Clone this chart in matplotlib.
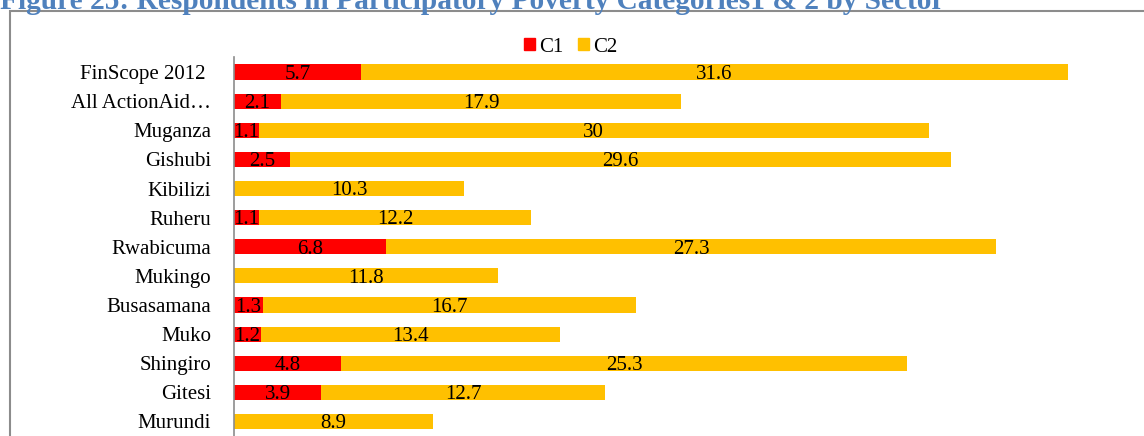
import matplotlib.pyplot as plt
import matplotlib.patches as mpatches
import numpy as np

plt.rcParams['font.family'] = ['Liberation Serif', 'DejaVu Serif']

sectors = ['FinScope 2012 ', 'All ActionAid\u2026', 'Muganza', 'Gishubi', 'Kibilizi',
           'Ruheru', 'Rwabicuma', 'Mukingo', 'Busasamana', 'Muko', 'Shingiro',
           'Gitesi', 'Murundi']
c1 = [5.7, 2.1, 1.1, 2.5, 0, 1.1, 6.8, 0, 1.3, 1.2, 4.8, 3.9, 0]
c2 = [31.6, 17.9, 30, 29.6, 10.3, 12.2, 27.3, 11.8, 16.7, 13.4, 25.3, 12.7, 8.9]

W, H = 1144, 436
fs = 15
fig = plt.figure(figsize=(W / 100, H / 100), dpi=100)

# figure title (cropped at the top in the original)
fig.text(0.0, 1 - 9 / H, 'Figure 25: Respondents in Participatory Poverty Categories1 & 2 by Sector',
         color='#4F81BD', fontsize=21.2, fontweight='bold', va='baseline', ha='left')

# chart border box
fig.add_artist(mpatches.Rectangle((9.5 / W, -0.1), 1.2, 1 - 11.5 / H + 0.1,
                                  transform=fig.transFigure, fill=False,
                                  edgecolor='#8c8c8c', linewidth=1.5))

ax = fig.add_axes([234 / W, 0, 894 / W, (H - 57.5) / H])
y = np.arange(len(sectors))
bh = 0.52
ax.barh(y, c1, height=bh, color='#FF0000', label='C1')
ax.barh(y, c2, left=c1, height=bh, color='#FFC000', label='C2')

for i in range(len(sectors)):
    if c1[i] > 0:
        ax.text(c1[i] / 2, y[i] + 0.08, f'{c1[i]:g}', ha='center', va='center', fontsize=fs)
    ax.text(c1[i] + c2[i] / 2, y[i] + 0.08, f'{c2[i]:g}', ha='center', va='center', fontsize=fs)

ax.set_xlim(0, 40)
ax.set_ylim(len(sectors) - 0.5, -0.5)
ax.set_yticks(y)
ax.set_yticklabels(sectors, fontsize=fs)
ax.tick_params(axis='y', length=0, pad=16.5)
ax.set_xticks([])
for s in ['top', 'right', 'bottom']:
    ax.spines[s].set_visible(False)
ax.spines['left'].set_color('#8c8c8c')
ax.spines['left'].set_linewidth(1.2)
ax.patch.set_alpha(0)

handles = [mpatches.Patch(color='#FF0000', label='C1'), mpatches.Patch(color='#FFC000', label='C2')]
fig.legend(handles=handles, loc='center', bbox_to_anchor=(571 / W, 1 - 47 / H), ncol=2,
           frameon=False, fontsize=fs, handlelength=0.52, handleheight=0.52,
           handletextpad=0.2, columnspacing=0.7, borderpad=0)

fig.savefig('out.png', dpi=100)
